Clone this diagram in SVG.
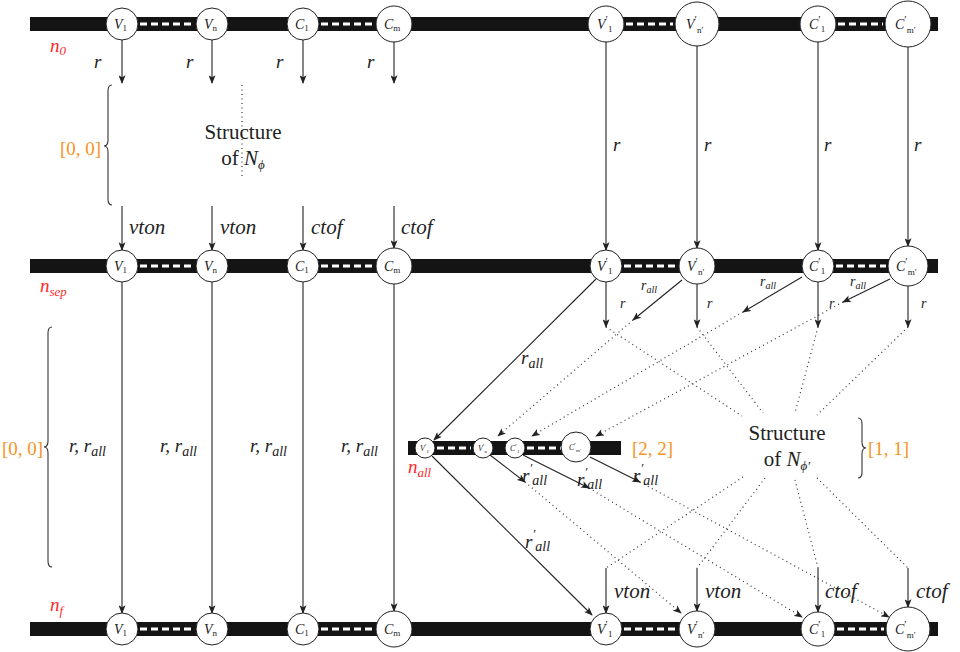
<svg xmlns="http://www.w3.org/2000/svg" width="960" height="652" viewBox="0 0 960 652" font-family="'Liberation Serif','Times New Roman',serif">
<style>
text{font-family:"Liberation Serif","Times New Roman","DejaVu Serif",serif;fill:#222}
.it{font-style:italic}
.bar{fill:#141414}
.dash{stroke:#fff;stroke-width:3;stroke-dasharray:7 4}
.node{fill:#fff;stroke:#222;stroke-width:1}
.nl{font-size:14px;font-style:italic}
.sl{font-size:9px;font-style:normal}
.pr{font-size:11px;font-style:normal}
.ar{stroke:#222;stroke-width:1.1;fill:none;marker-end:url(#ah)}
.dt{stroke:#333;stroke-width:1.2;fill:none;stroke-dasharray:1 3.5}
.dta{stroke:#333;stroke-width:1.2;fill:none;stroke-dasharray:1 3.5;marker-end:url(#ah)}
.lab{font-size:19px;font-style:italic}
.big{font-size:21px;font-style:italic}
.sm{font-size:14px;font-style:italic}
.red{fill:#ff2a2a;font-style:italic;font-size:19px}
.or{fill:#f7931e;font-size:19px}
.br{stroke:#333;stroke-width:1.1;fill:none}
.st{font-size:21px;text-anchor:middle}
.s14{font-size:14px}
.s13{font-size:13px}
.s10{font-size:10px}
.s12{font-size:13px}
.t5{font-size:5px;font-style:normal}
.t7{font-size:7px;font-style:normal}
.t8{font-size:8px;font-style:italic}
</style>
<defs>
<marker id="ah" viewBox="0 0 10 8" refX="9" refY="4" markerWidth="9" markerHeight="7" markerUnits="userSpaceOnUse" orient="auto">
<path d="M0,0 L10,4 L0,8 L2.5,4 Z" fill="#222"/>
</marker>
</defs>

<!-- bars -->
<g id="bar-n0"><rect class="bar" x="30" y="17" width="908" height="14"/>
<line class="dash" x1="140" y1="24" x2="194" y2="24"/><line class="dash" x1="321" y1="24" x2="374" y2="24"/>
<line class="dash" x1="626" y1="24" x2="673" y2="24"/><line class="dash" x1="838" y1="24" x2="883" y2="24"/></g>
<g id="bar-nsep"><rect class="bar" x="30" y="259" width="908" height="14"/>
<line class="dash" x1="140" y1="266" x2="194" y2="266"/><line class="dash" x1="321" y1="266" x2="374" y2="266"/>
<line class="dash" x1="624" y1="266" x2="677" y2="266"/><line class="dash" x1="836" y1="266" x2="886" y2="266"/></g>
<g id="bar-nf"><rect class="bar" x="30" y="622" width="908" height="14"/>
<line class="dash" x1="140" y1="629" x2="194" y2="629"/><line class="dash" x1="321" y1="629" x2="374" y2="629"/>
<line class="dash" x1="624" y1="629" x2="677" y2="629"/><line class="dash" x1="837" y1="629" x2="884" y2="629"/></g>
<g id="bar-nall"><rect class="bar" x="408" y="441" width="213" height="14"/>
<line class="dash" x1="437" y1="448" x2="471" y2="448"/><line class="dash" x1="527" y1="448" x2="561" y2="448"/></g>

<!-- connectors -->
<g id="connectors">
<line class="ar" x1="122" y1="40" x2="122" y2="83"/>
<line class="ar" x1="212" y1="40" x2="212" y2="83"/>
<line class="ar" x1="303" y1="40" x2="303" y2="83"/>
<line class="ar" x1="394" y1="42" x2="394" y2="83"/>
<line class="ar" x1="122" y1="206" x2="122" y2="250"/>
<line class="ar" x1="212" y1="206" x2="212" y2="250"/>
<line class="ar" x1="303" y1="206" x2="303" y2="250"/>
<line class="ar" x1="394" y1="206" x2="394" y2="248"/>
<line class="dt" x1="242" y1="85" x2="242" y2="176"/>
<line class="ar" x1="606" y1="42" x2="606" y2="250"/>
<line class="ar" x1="697" y1="46" x2="697" y2="248"/>
<line class="ar" x1="818" y1="42" x2="818" y2="250"/>
<line class="ar" x1="908" y1="47" x2="908" y2="246"/>
<line class="ar" x1="122" y1="282" x2="122" y2="613"/>
<line class="ar" x1="212" y1="282" x2="212" y2="613"/>
<line class="ar" x1="303" y1="282" x2="303" y2="613"/>
<line class="ar" x1="394" y1="284" x2="394" y2="611"/>
<line class="ar" x1="606" y1="282" x2="606" y2="327"/>
<line class="ar" x1="697" y1="284" x2="697" y2="327"/>
<line class="ar" x1="818" y1="282" x2="818" y2="327"/>
<line class="ar" x1="908" y1="286" x2="908" y2="327"/>
<line class="ar" x1="596" y1="279" x2="434" y2="440"/>
<line class="ar" x1="682" y1="280" x2="633" y2="320"/>
<line class="ar" x1="802" y1="277" x2="743" y2="312"/>
<line class="ar" x1="890" y1="279" x2="843" y2="302"/>
<line class="dt" x1="606" y1="327" x2="742" y2="416"/>
<line class="dt" x1="697" y1="327" x2="763" y2="413"/>
<line class="dt" x1="818" y1="327" x2="795" y2="413"/>
<line class="dt" x1="908" y1="327" x2="817" y2="415"/>
<line class="dta" x1="633" y1="320" x2="498" y2="436"/>
<line class="dta" x1="743" y1="312" x2="532" y2="436"/>
<line class="dta" x1="843" y1="302" x2="596" y2="436"/>
<line class="dt" x1="743" y1="477" x2="606" y2="568"/>
<line class="dt" x1="765" y1="478" x2="697" y2="568"/>
<line class="dt" x1="795" y1="480" x2="818" y2="568"/>
<line class="dt" x1="817" y1="478" x2="908" y2="568"/>
<line class="ar" x1="432" y1="456" x2="592" y2="615"/>
<line class="ar" x1="490" y1="455" x2="525" y2="482"/>
<line class="ar" x1="523" y1="455" x2="589" y2="488"/>
<line class="ar" x1="590" y1="457" x2="640" y2="482"/>
<line class="dta" x1="525" y1="482" x2="681" y2="613"/>
<line class="dta" x1="589" y1="488" x2="802" y2="617"/>
<line class="dta" x1="640" y1="482" x2="889" y2="617"/>
<line class="ar" x1="606" y1="568" x2="606" y2="613"/>
<line class="ar" x1="697" y1="568" x2="697" y2="611"/>
<line class="ar" x1="818" y1="568" x2="818" y2="612"/>
<line class="ar" x1="908" y1="568" x2="908" y2="607"/>
</g>

<!-- braces -->
<g id="braces">
<path class="br" d="M112,85 q-4,0 -4,6 L108,140 q0,6 -4,6 q4,0 4,6 L108,199 q0,6 4,6"/>
<path class="br" d="M52,327 q-4,0 -4,6 L48,441 q0,6 -4,6 q4,0 4,6 L48,561 q0,6 4,6"/>
<path class="br" d="M858,418 q4,0 4,6 L862,442 q0,6 4,6 q-4,0 -4,6 L862,472 q0,6 -4,6"/>
</g>

<!-- top row nodes -->
<g id="n0-V1"><circle class="node" cx="122" cy="24" r="16"/><text class="nl" x="114" y="29">V<tspan class="sl" dy="2">1</tspan></text></g>
<g id="n0-Vn"><circle class="node" cx="212" cy="24" r="16"/><text class="nl" x="204" y="29">V<tspan class="sl it" dy="2">n</tspan></text></g>
<g id="n0-C1"><circle class="node" cx="303" cy="24" r="16"/><text class="nl" x="295" y="29">C<tspan class="sl" dy="2">1</tspan></text></g>
<g id="n0-Cm"><circle class="node" cx="394" cy="24" r="18"/><text class="nl" x="384" y="29">C<tspan class="sl it" dy="2">m</tspan></text></g>
<g id="n0-V1p"><circle class="node" cx="606" cy="24" r="18"/><text class="nl" x="597" y="29">V<tspan class="pr" dy="-6">′</tspan><tspan class="sl" dy="9">1</tspan></text></g>
<g id="n0-Vnp"><circle class="node" cx="697" cy="24" r="22"/><text class="nl" x="686" y="29">V<tspan class="pr" dy="-6">′</tspan><tspan class="sl it" dy="10">n′</tspan></text></g>
<g id="n0-C1p"><circle class="node" cx="818" cy="24" r="18"/><text class="nl" x="809" y="29">C<tspan class="pr" dy="-6">′</tspan><tspan class="sl" dy="9">1</tspan></text></g>
<g id="n0-Cmp"><circle class="node" cx="908" cy="24" r="23"/><text class="nl" x="895" y="29">C<tspan class="pr" dy="-6">′</tspan><tspan class="sl it" dy="10">m′</tspan></text></g>

<!-- middle row nodes -->
<g id="nsep-V1"><circle class="node" cx="122" cy="266" r="16"/><text class="nl" x="114" y="271">V<tspan class="sl" dy="2">1</tspan></text></g>
<g id="nsep-Vn"><circle class="node" cx="212" cy="266" r="16"/><text class="nl" x="204" y="271">V<tspan class="sl it" dy="2">n</tspan></text></g>
<g id="nsep-C1"><circle class="node" cx="303" cy="266" r="16"/><text class="nl" x="295" y="271">C<tspan class="sl" dy="2">1</tspan></text></g>
<g id="nsep-Cm"><circle class="node" cx="394" cy="266" r="18"/><text class="nl" x="384" y="271">C<tspan class="sl it" dy="2">m</tspan></text></g>
<g id="nsep-V1p"><circle class="node" cx="606" cy="266" r="16"/><text class="nl" x="597" y="271">V<tspan class="pr" dy="-6">′</tspan><tspan class="sl" dy="9">1</tspan></text></g>
<g id="nsep-Vnp"><circle class="node" cx="697" cy="266" r="18"/><text class="nl" x="687" y="271">V<tspan class="pr" dy="-6">′</tspan><tspan class="sl it" dy="10">n′</tspan></text></g>
<g id="nsep-C1p"><circle class="node" cx="818" cy="266" r="16"/><text class="nl" x="809" y="271">C<tspan class="pr" dy="-6">′</tspan><tspan class="sl" dy="9">1</tspan></text></g>
<g id="nsep-Cmp"><circle class="node" cx="908" cy="266" r="20"/><text class="nl" x="896" y="271">C<tspan class="pr" dy="-6">′</tspan><tspan class="sl it" dy="10">m′</tspan></text></g>

<!-- bottom row nodes -->
<g id="nf-V1"><circle class="node" cx="122" cy="629" r="16"/><text class="nl" x="114" y="634">V<tspan class="sl" dy="2">1</tspan></text></g>
<g id="nf-Vn"><circle class="node" cx="212" cy="629" r="16"/><text class="nl" x="204" y="634">V<tspan class="sl it" dy="2">n</tspan></text></g>
<g id="nf-C1"><circle class="node" cx="303" cy="629" r="16"/><text class="nl" x="295" y="634">C<tspan class="sl" dy="2">1</tspan></text></g>
<g id="nf-Cm"><circle class="node" cx="394" cy="629" r="18"/><text class="nl" x="384" y="634">C<tspan class="sl it" dy="2">m</tspan></text></g>
<g id="nf-V1p"><circle class="node" cx="606" cy="629" r="16"/><text class="nl" x="597" y="634">V<tspan class="pr" dy="-6">′</tspan><tspan class="sl" dy="9">1</tspan></text></g>
<g id="nf-Vnp"><circle class="node" cx="697" cy="629" r="18"/><text class="nl" x="687" y="634">V<tspan class="pr" dy="-6">′</tspan><tspan class="sl it" dy="10">n′</tspan></text></g>
<g id="nf-C1p"><circle class="node" cx="818" cy="629" r="17"/><text class="nl" x="809" y="634">C<tspan class="pr" dy="-6">′</tspan><tspan class="sl" dy="9">1</tspan></text></g>
<g id="nf-Cmp"><circle class="node" cx="908" cy="629" r="22"/><text class="nl" x="895" y="634">C<tspan class="pr" dy="-6">′</tspan><tspan class="sl it" dy="10">m′</tspan></text></g>

<!-- n_all nodes -->
<g id="nall-V1p"><circle class="node" cx="425" cy="448" r="10"/><text class="t8" x="420" y="451">V<tspan class="t7" dy="-3">′</tspan><tspan class="t5" dy="5">1</tspan></text></g>
<g id="nall-Vnp"><circle class="node" cx="483" cy="448" r="10"/><text class="t8" x="478" y="451">V<tspan class="t7" dy="-3">′</tspan><tspan class="t5 it" dy="5">n</tspan></text></g>
<g id="nall-C1p"><circle class="node" cx="515" cy="448" r="10"/><text class="t8" x="510" y="451">C<tspan class="t7" dy="-3">′</tspan><tspan class="t5" dy="5">1</tspan></text></g>
<g id="nall-Cmp"><circle class="node" cx="576" cy="447" r="15"/><text class="t8" x="569" y="450">C<tspan class="t7" dy="-3">′</tspan><tspan class="t5 it" dy="5">m′</tspan></text></g>

<!-- structures -->
<g id="struct-phi"><text class="st" x="243" y="139">Structure</text><text class="st" x="243" y="165">of <tspan class="it">N</tspan><tspan class="it s12" dy="4">ϕ</tspan></text></g>
<g id="struct-phip"><text class="st" x="787" y="440">Structure</text><text class="st" x="787" y="466">of <tspan class="it">N</tspan><tspan class="it s12" dy="4">ϕ′</tspan></text></g>

<!-- labels -->
<g id="labels">
<text class="red" x="50" y="52">n<tspan class="s13" dy="3">0</tspan></text>
<text class="red" x="40" y="292">n<tspan class="s13" dy="4">sep</tspan></text>
<text class="red" x="50" y="611">n<tspan class="s13" dy="4">f</tspan></text>
<text class="red" x="408" y="473">n<tspan class="s13" dy="4">all</tspan></text>
<text class="or" x="60" y="155">[0, 0]</text>
<text class="or" x="2" y="455">[0, 0]</text>
<text class="or" x="632" y="455">[2, 2]</text>
<text class="or" x="868" y="455">[1, 1]</text>
<text class="lab" x="94" y="68">r</text>
<text class="lab" x="186" y="68">r</text>
<text class="lab" x="276" y="68">r</text>
<text class="lab" x="367" y="68">r</text>
<text class="lab" x="613" y="151">r</text>
<text class="lab" x="704" y="151">r</text>
<text class="lab" x="824" y="151">r</text>
<text class="lab" x="914" y="151">r</text>
<text class="big" x="129" y="234">vton</text>
<text class="big" x="220" y="234">vton</text>
<text class="big" x="311" y="234">ctof</text>
<text class="big" x="401" y="234">ctof</text>
<text class="lab" x="69" y="452">r, r<tspan class="s14" dy="4">all</tspan></text>
<text class="lab" x="160" y="452">r, r<tspan class="s14" dy="4">all</tspan></text>
<text class="lab" x="250" y="452">r, r<tspan class="s14" dy="4">all</tspan></text>
<text class="lab" x="341" y="452">r, r<tspan class="s14" dy="4">all</tspan></text>
<text class="lab" x="521" y="364">r<tspan class="s14" dy="4">all</tspan></text>
<text class="sm" x="620" y="308">r</text>
<text class="sm" x="707" y="308">r</text>
<text class="sm" x="829" y="308">r</text>
<text class="sm" x="921" y="308">r</text>
<text class="sm" x="641" y="290">r<tspan class="s10" dy="3">all</tspan></text>
<text class="sm" x="760" y="286">r<tspan class="s10" dy="3">all</tspan></text>
<text class="sm" x="850" y="286">r<tspan class="s10" dy="3">all</tspan></text>
<text class="lab" x="522" y="482">r<tspan class="s13" dy="-10">′</tspan><tspan class="s14" dy="13">all</tspan></text>
<text class="lab" x="577" y="486">r<tspan class="s13" dy="-10">′</tspan><tspan class="s14" dy="13">all</tspan></text>
<text class="lab" x="633" y="482">r<tspan class="s13" dy="-10">′</tspan><tspan class="s14" dy="13">all</tspan></text>
<text class="lab" x="525" y="548">r<tspan class="s13" dy="-10">′</tspan><tspan class="s14" dy="13">all</tspan></text>
<text class="big" x="614" y="598">vton</text>
<text class="big" x="705" y="598">vton</text>
<text class="big" x="825" y="598">ctof</text>
<text class="big" x="916" y="598">ctof</text>
</g>
</svg>
